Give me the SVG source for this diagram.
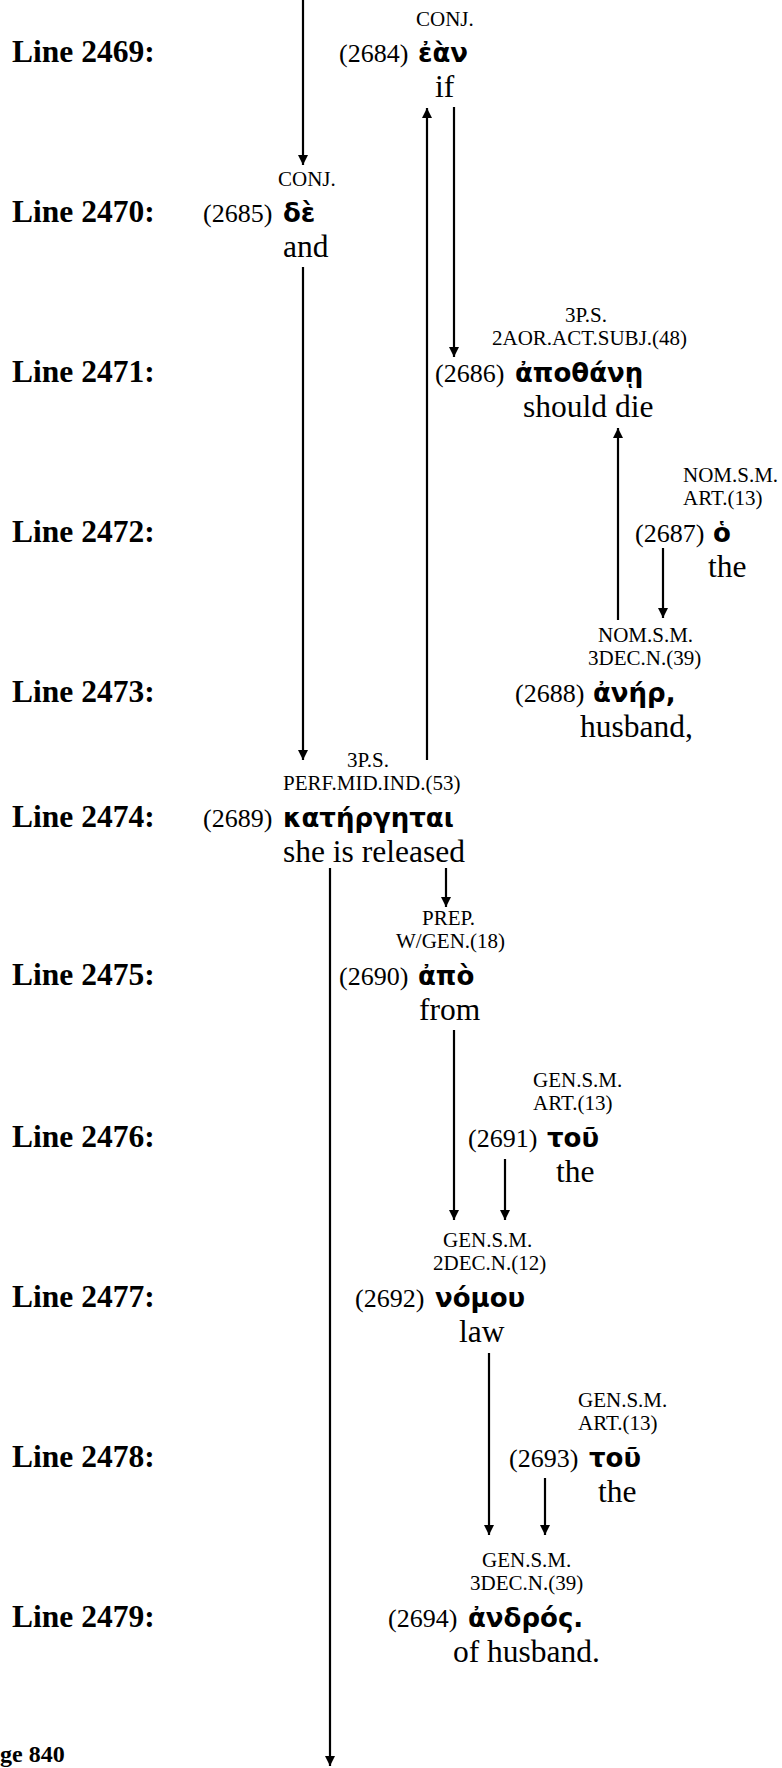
<svg xmlns="http://www.w3.org/2000/svg" width="782" height="1768" viewBox="0 0 782 1768">
<defs>
<style>
.lbl{font-family:"Liberation Serif","Times New Roman",serif;font-weight:bold;font-size:31.5px;fill:#000}
.ann{font-family:"Liberation Serif","Times New Roman",serif;font-size:21px;fill:#000}
.num{font-family:"Liberation Serif","Times New Roman",serif;font-size:26px;fill:#000}
.gk{font-family:"DejaVu Sans","Noto Sans",sans-serif;font-weight:bold;font-size:26px;fill:#000}
.en{font-family:"Liberation Serif","Times New Roman",serif;font-size:31.5px;fill:#000}
.ft{font-family:"Liberation Serif","Times New Roman",serif;font-weight:bold;font-size:24px;fill:#000}
.cn line{stroke:#000;stroke-width:2.2;marker-end:url(#ah)}
</style>
<marker id="ah" markerWidth="11" markerHeight="10" refX="10" refY="5" orient="auto" markerUnits="userSpaceOnUse">
<path d="M0,0 L10,5 L0,10 z" fill="#000"/>
</marker>
</defs>
<rect width="782" height="1768" fill="#fff"/>

<g id="labels">
<text class="lbl" x="12" y="62">Line 2469:</text>
<text class="lbl" x="12" y="222">Line 2470:</text>
<text class="lbl" x="12" y="382">Line 2471:</text>
<text class="lbl" x="12" y="542">Line 2472:</text>
<text class="lbl" x="12" y="702">Line 2473:</text>
<text class="lbl" x="12" y="827">Line 2474:</text>
<text class="lbl" x="12" y="985">Line 2475:</text>
<text class="lbl" x="12" y="1147">Line 2476:</text>
<text class="lbl" x="12" y="1307">Line 2477:</text>
<text class="lbl" x="12" y="1467">Line 2478:</text>
<text class="lbl" x="12" y="1627">Line 2479:</text>
<text class="ft" x="0" y="1762">ge 840</text>
</g>

<g id="w2684">
<text class="ann" x="416" y="26">CONJ.</text>
<text class="num" x="339" y="62">(2684)</text>
<text class="gk" x="418" y="62">ἐὰν</text>
<text class="en" x="435" y="97">if</text>
</g>

<g id="w2685">
<text class="ann" x="278" y="186">CONJ.</text>
<text class="num" x="203" y="222">(2685)</text>
<text class="gk" x="283" y="222">δὲ</text>
<text class="en" x="283" y="257">and</text>
</g>

<g id="w2686">
<text class="ann" x="565" y="322">3P.S.</text>
<text class="ann" x="492" y="345">2AOR.ACT.SUBJ.(48)</text>
<text class="num" x="435" y="382">(2686)</text>
<text class="gk" x="515" y="382">ἀποθάνῃ</text>
<text class="en" x="523" y="417">should die</text>
</g>

<g id="w2687">
<text class="ann" x="683" y="482">NOM.S.M.</text>
<text class="ann" x="683" y="505">ART.(13)</text>
<text class="num" x="635" y="542">(2687)</text>
<text class="gk" x="713" y="542">ὁ</text>
<text class="en" x="708" y="577">the</text>
</g>

<g id="w2688">
<text class="ann" x="598" y="642">NOM.S.M.</text>
<text class="ann" x="588" y="665">3DEC.N.(39)</text>
<text class="num" x="515" y="702">(2688)</text>
<text class="gk" x="593" y="702">ἀνήρ,</text>
<text class="en" x="580" y="737">husband,</text>
</g>

<g id="w2689">
<text class="ann" x="347" y="767">3P.S.</text>
<text class="ann" x="283" y="790">PERF.MID.IND.(53)</text>
<text class="num" x="203" y="827">(2689)</text>
<text class="gk" x="283" y="827">κατήργηται</text>
<text class="en" x="283" y="862">she is released</text>
</g>

<g id="w2690">
<text class="ann" x="422" y="925">PREP.</text>
<text class="ann" x="396" y="948">W/GEN.(18)</text>
<text class="num" x="339" y="985">(2690)</text>
<text class="gk" x="418" y="985">ἀπὸ</text>
<text class="en" x="419" y="1020">from</text>
</g>

<g id="w2691">
<text class="ann" x="533" y="1087">GEN.S.M.</text>
<text class="ann" x="533" y="1110">ART.(13)</text>
<text class="num" x="468" y="1147">(2691)</text>
<text class="gk" x="547" y="1147">τοῦ</text>
<text class="en" x="556" y="1182">the</text>
</g>

<g id="w2692">
<text class="ann" x="443" y="1247">GEN.S.M.</text>
<text class="ann" x="433" y="1270">2DEC.N.(12)</text>
<text class="num" x="355" y="1307">(2692)</text>
<text class="gk" x="435" y="1307">νόμου</text>
<text class="en" x="459" y="1342">law</text>
</g>

<g id="w2693">
<text class="ann" x="578" y="1407">GEN.S.M.</text>
<text class="ann" x="578" y="1430">ART.(13)</text>
<text class="num" x="509" y="1467">(2693)</text>
<text class="gk" x="589" y="1467">τοῦ</text>
<text class="en" x="598" y="1502">the</text>
</g>

<g id="w2694">
<text class="ann" x="482" y="1567">GEN.S.M.</text>
<text class="ann" x="470" y="1590">3DEC.N.(39)</text>
<text class="num" x="388" y="1627">(2694)</text>
<text class="gk" x="468" y="1627">ἀνδρός.</text>
<text class="en" x="453" y="1662">of husband.</text>
</g>

<g id="connectors" class="cn">
<line x1="303" y1="0" x2="303" y2="165"/>
<line x1="303" y1="267" x2="303" y2="760"/>
<line x1="427" y1="760" x2="427" y2="108"/>
<line x1="454" y1="107" x2="454" y2="357"/>
<line x1="618" y1="620" x2="618" y2="428"/>
<line x1="663" y1="548" x2="663" y2="618"/>
<line x1="446" y1="868" x2="446" y2="907"/>
<line x1="330" y1="868" x2="330" y2="1766"/>
<line x1="454" y1="1030" x2="454" y2="1220"/>
<line x1="505" y1="1159" x2="505" y2="1220"/>
<line x1="489" y1="1353" x2="489" y2="1535"/>
<line x1="545" y1="1478" x2="545" y2="1535"/>
</g>
</svg>
